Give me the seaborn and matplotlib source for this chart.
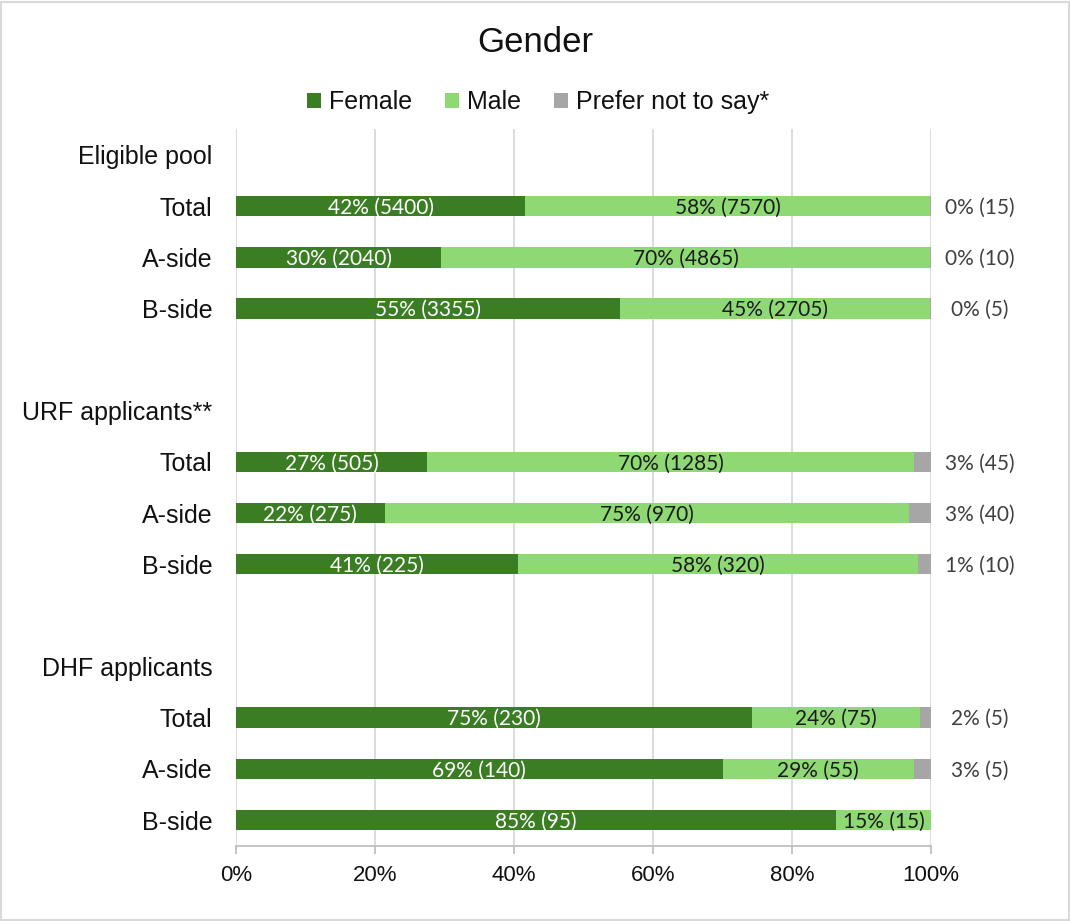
import numpy as np
import pandas as pd
import seaborn as sns
import matplotlib.pyplot as plt
from matplotlib.patches import Patch, Rectangle
from matplotlib.ticker import FuncFormatter

sns.set_theme(style="white")
plt.rcParams['font.family'] = ['Liberation Sans', 'DejaVu Sans']

# --- data -----------------------------------------------------------------
groups = ["Eligible pool", "URF applicants**", "DHF applicants"]
sides = ["Total", "A-side", "B-side"]

female_n = [5400, 2040, 3355, 505, 275, 225, 230, 140, 95]
male_n = [7570, 4865, 2705, 1285, 970, 320, 75, 55, 15]
pns_n = [15, 10, 5, 45, 40, 10, 5, 5, 0]

female_pct = [42, 30, 55, 27, 22, 41, 75, 69, 85]
male_pct = [58, 70, 45, 70, 75, 58, 24, 29, 15]
pns_pct = [0, 0, 0, 3, 3, 1, 2, 3, 0]

series_names = ["Female", "Male", "Prefer not to say*"]
x_ticks = [0, 0.2, 0.4, 0.6, 0.8, 1.0]

# --- styling ----------------------------------------------------------------
c_female = "#3B7D23"
c_male = "#8ED973"
c_pns = "#A6A6A6"
grid_c = "#D9D9D9"
label_font = ['Lato', 'DejaVu Sans']

# --- layout of rows: a header row per group, then its three bars ----------
row_keys, row_labels, bar_keys = [], [], []
for gi, g in enumerate(groups):
    row_keys.append(g)
    row_labels.append(g)
    for s in sides:
        key = f"{g} | {s}"
        row_keys.append(key)
        row_labels.append(s)
        bar_keys.append(key)
    if gi < len(groups) - 1:
        row_keys.append(f"gap {gi}")
        row_labels.append("")

f = np.array(female_n, float)
m = np.array(male_n, float)
p = np.array(pns_n, float)
tot = f + m + p
df = pd.DataFrame({
    "row": bar_keys,
    "female": f / tot,
    "female_male": (f + m) / tot,
    "all": tot / tot,
})

fig = plt.figure(figsize=(10.7, 9.21), dpi=100)
ax = fig.add_axes([236 / 1070, 1 - 845.6 / 921, 695 / 1070, (845.6 - 129.4) / 921])

common = dict(data=df, y="row", order=row_keys, orient="h", width=0.4,
              saturation=1, errorbar=None, ax=ax, linewidth=0)
sns.barplot(x="all", color=c_pns, **common)
sns.barplot(x="female_male", color=c_male, **common)
sns.barplot(x="female", color=c_female, **common)

# segment labels
for i, key in enumerate(bar_keys):
    y = row_keys.index(key) + 0.03
    fs = df["female"].iloc[i]
    fm = df["female_male"].iloc[i]
    ax.text(fs / 2, y, f"{female_pct[i]}% ({female_n[i]})", ha="center", va="center",
            color="white", fontsize=15, family=label_font)
    ax.text((fs + fm) / 2, y, f"{male_pct[i]}% ({male_n[i]})", ha="center", va="center",
            color="#1a1a1a", fontsize=15, family=label_font)
    if pns_n[i] > 0:
        ax.text(1.07, y, f"{pns_pct[i]}% ({pns_n[i]})", ha="center", va="center",
                color="#404040", fontsize=15, family=label_font, clip_on=False)

# axes
ax.set_xlim(0, 1)
ax.set_xticks(x_ticks)
ax.xaxis.set_major_formatter(FuncFormatter(lambda v, _: f"{v:.0%}"))
ax.set_yticks(range(len(row_keys)))
ax.set_yticklabels(row_labels)
ax.set_xlabel("")
ax.set_ylabel("")
ax.xaxis.grid(True, color=grid_c, linewidth=1.3)
ax.yaxis.grid(False)
ax.set_axisbelow(True)
for side in ["top", "right", "left"]:
    ax.spines[side].set_visible(False)
ax.spines["bottom"].set_color("#BFBFBF")
ax.spines["bottom"].set_linewidth(1.3)
ax.tick_params(axis="x", bottom=True, length=6, width=1.3, color="#BFBFBF",
               pad=8, labelsize=16, labelcolor="#111111")
ax.tick_params(axis="y", left=False, length=0, pad=17, labelsize=18, labelcolor="#111111")

# title and legend
fig.text(0.5, 1 - 42 / 921, "Gender", ha="center", va="center", fontsize=25, color="#111111")
handles = [Patch(facecolor=c, edgecolor="none") for c in (c_female, c_male, c_pns)]
fig.legend(handles, series_names, loc="center", bbox_to_anchor=(0.503, 1 - 102 / 921),
           ncol=3, frameon=False, fontsize=18, handlelength=0.55, handleheight=0.55,
           handletextpad=0.35, columnspacing=1.3, labelcolor="#111111")

# figure frame
fig.patches.append(Rectangle((0.001, 0.001), 0.998, 0.997, transform=fig.transFigure,
                             fill=False, edgecolor="#D9D9D9", linewidth=1.5))

fig.savefig("out.png", dpi=100)
